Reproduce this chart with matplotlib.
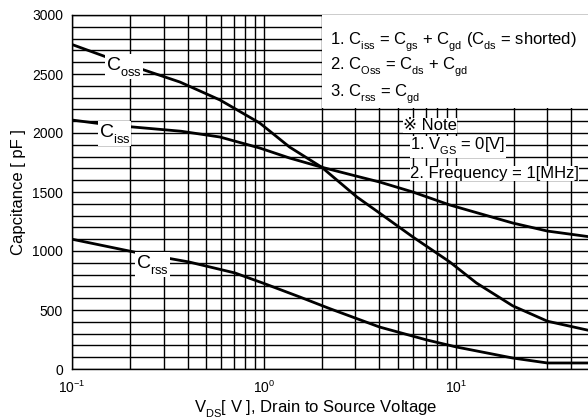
import matplotlib
matplotlib.use("Agg")
import matplotlib.pyplot as plt
from matplotlib.ticker import LogLocator, MultipleLocator, NullFormatter
from matplotlib.patches import Rectangle
import numpy as np

try:
    import matplotlib._mathtext as _mt
    _mt.SHRINK_FACTOR = 0.66
    _mt.FontConstantsBase.sub1 = 0.6
    _mt.FontConstantsBase.subdrop = 0.5
except Exception:
    pass

plt.rcParams['font.family'] = ['Liberation Sans', 'DejaVu Sans']
plt.rcParams['mathtext.fontset'] = 'custom'
plt.rcParams['mathtext.rm'] = 'Liberation Sans'
plt.rcParams['mathtext.it'] = 'Liberation Sans'
plt.rcParams['mathtext.default'] = 'regular'

# data (V_DS in V, capacitance in pF)
vds_oss = [0.1, 0.178, 0.365, 0.59, 0.95, 1.36, 2.0, 3.05, 4.0, 5.97, 9.3, 12.8, 19.8, 30, 50]
c_oss   = [2750, 2602, 2432, 2280, 2085, 1881, 1710, 1458, 1322, 1119, 907, 729, 535, 405, 325]
vds_iss = [0.1, 0.158, 0.37, 0.59, 0.95, 1.36, 2.0, 3.16, 4.0, 5.97, 9.3, 19.8, 30, 50]
c_iss   = [2110, 2068, 2015, 1966, 1873, 1788, 1710, 1627, 1585, 1500, 1390, 1237, 1169, 1120]
vds_rss = [0.1, 0.223, 0.407, 0.706, 1.0, 1.54, 2.2, 4.0, 7.06, 10.1, 19.8, 30, 50]
c_rss   = [1100, 983, 907, 814, 725, 610, 512, 356, 246, 186, 93, 51, 51]

yticks = [0, 500, 1000, 1500, 2000, 2500, 3000]

fig = plt.figure(figsize=(5.88, 4.19), dpi=100)
ax = fig.add_axes([72/588, 1-369/419, (590-72)/588, (369-15)/419])
ax.set_xscale('log')
ax.set_xlim(0.1, 50)
ax.set_ylim(0, 3000)
ax.set_yticks(yticks)
ax.yaxis.set_minor_locator(MultipleLocator(100))
ax.xaxis.set_major_locator(LogLocator(base=10))
ax.xaxis.set_minor_locator(LogLocator(base=10, subs=np.arange(2, 10)))
ax.xaxis.set_minor_formatter(NullFormatter())
ax.grid(True, which='both', color='black', linewidth=1.0)
ax.tick_params(which='both', length=0, labelsize=10)
ax.tick_params(axis='y', pad=6.5)
ax.tick_params(axis='x', pad=8)
for s in ax.spines.values():
    s.set_color('black')
    s.set_linewidth(1.0)

for x, y in [(vds_oss, c_oss), (vds_iss, c_iss), (vds_rss, c_rss)]:
    ax.plot(x, y, color='black', linewidth=2.0, solid_joinstyle='round', zorder=3)

def px2v(px):
    return 0.1 * 10 ** ((px - 72) / 192)

bb = dict(facecolor='white', edgecolor='none', pad=0.5)
ax.text(px2v(106), 2534, r'C$_{oss}$', fontsize=14, ha='left', va='baseline', bbox=bb, zorder=4)
ax.text(px2v(99), 1966, r'C$_{iss}$', fontsize=14, ha='left', va='baseline', bbox=bb, zorder=4)
ax.text(px2v(136), 856, r'C$_{rss}$', fontsize=14, ha='left', va='baseline', bbox=bb, zorder=4)

# annotation box
ax.add_patch(Rectangle((px2v(322), 2212), 60, 800,
                       facecolor='white', edgecolor='none', zorder=4))
fs = 12
xa = px2v(330)
ax.text(xa, 2746, r'1. C$_{iss}$ = C$_{gs}$ + C$_{gd}$ (C$_{ds}$ = shorted)',
        fontsize=fs, va='baseline', ha='left', zorder=5)
ax.text(xa, 2534, r'2. C$_{Oss}$ = C$_{ds}$ + C$_{gd}$',
        fontsize=fs, va='baseline', ha='left', zorder=5)
ax.text(xa, 2305, r'3. C$_{rss}$ = C$_{gd}$',
        fontsize=fs, va='baseline', ha='left', zorder=5)
nb = dict(facecolor='white', edgecolor='none', pad=0.3)
ax.text(px2v(403), 2025, '※ Note', fontsize=fs, va='baseline', ha='left', bbox=nb, zorder=5)
ax.text(px2v(410), 1856, r'1. V$_{GS}$ = 0[V]', fontsize=fs, va='baseline', ha='left', bbox=nb, zorder=5)
ax.text(px2v(410), 1619, '2. Frequency = 1[MHz]', fontsize=fs, va='baseline', ha='left', bbox=nb, zorder=5)

ax.set_ylabel('Capcitance [ pF ]', fontsize=12, labelpad=4)
ax.set_xlabel(r'V$_{DS}$[ V ], Drain to Source Voltage', fontsize=12, labelpad=0)
ax.xaxis.set_label_coords((316 - 72) / 518, -0.085)

fig.savefig('out.png', dpi=100)
